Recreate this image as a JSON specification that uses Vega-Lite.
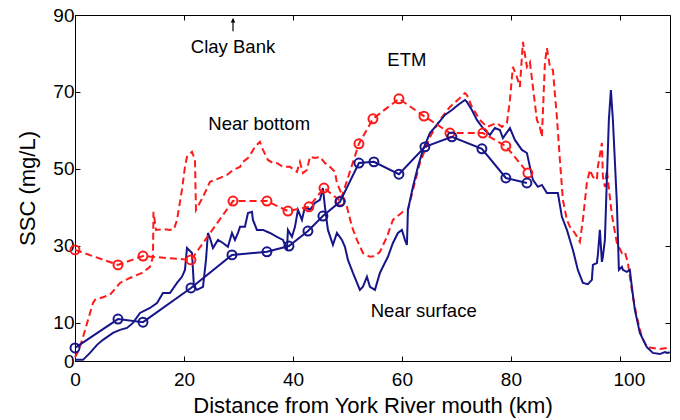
{
  "$schema": "https://vega.github.io/schema/vega-lite/v6.json",
  "width": 595,
  "height": 346,
  "autosize": "none",
  "padding": {"left": 75, "top": 15, "right": 10, "bottom": 59},
  "background": "white",
  "config": {
    "view": {"stroke": "black", "strokeWidth": 1},
    "font": "Liberation Sans",
    "axis": {"grid": false, "domainColor": "black", "tickColor": "black", "labelColor": "black", "titleColor": "black", "labelFont": "Liberation Sans", "titleFont": "Liberation Sans", "labelFontSize": 19, "titleFontSize": 22, "titleFontWeight": "normal", "tickSize": -5, "domain": true}
  },
  "datasets": {
    "bottom": [
      {"km":0,"ssc":1.0},{"km":0.73,"ssc":2.9},{"km":1.47,"ssc":6.2},{"km":2.39,"ssc":10.7},{"km":3.3,"ssc":15.1},{"km":3.67,"ssc":15.9},{"km":5.14,"ssc":16.6},{"km":6.42,"ssc":17.2},{"km":8.26,"ssc":20.3},{"km":10.09,"ssc":21.6},{"km":12.29,"ssc":22.9},{"km":13.76,"ssc":24.5},{"km":14.31,"ssc":27.1},{"km":14.4,"ssc":38.8},{"km":14.86,"ssc":34.1},{"km":16.15,"ssc":34.3},{"km":17.43,"ssc":34.1},{"km":18.17,"ssc":34.3},{"km":18.72,"ssc":36.7},{"km":19.63,"ssc":44.5},{"km":20.18,"ssc":50.5},{"km":20.55,"ssc":53.1},{"km":21.47,"ssc":54.4},{"km":22.02,"ssc":52.3},{"km":22.2,"ssc":39.3},{"km":23.49,"ssc":42.7},{"km":24.77,"ssc":46.6},{"km":25.69,"ssc":47.1},{"km":27.89,"ssc":48.4},{"km":28.99,"ssc":49.7},{"km":30.28,"ssc":50.5},{"km":30.83,"ssc":51.8},{"km":31.74,"ssc":52.8},{"km":32.48,"ssc":54.4},{"km":33.03,"ssc":55.7},{"km":33.94,"ssc":57.0},{"km":34.5,"ssc":54.9},{"km":35.41,"ssc":52.3},{"km":36.33,"ssc":51.5},{"km":37.06,"ssc":51.5},{"km":38.17,"ssc":50.5},{"km":39.45,"ssc":50.5},{"km":40.73,"ssc":49.2},{"km":41.28,"ssc":51.8},{"km":41.83,"ssc":48.9},{"km":42.57,"ssc":49.7},{"km":43.12,"ssc":53.1},{"km":44.04,"ssc":52.8},{"km":44.95,"ssc":53.1},{"km":45.87,"ssc":51.5},{"km":46.79,"ssc":50.5},{"km":47.71,"ssc":49.2},{"km":48.07,"ssc":46.3},{"km":49.17,"ssc":42.7},{"km":49.91,"ssc":40.1},{"km":50.83,"ssc":34.9},{"km":51.74,"ssc":31.5},{"km":52.84,"ssc":28.1},{"km":54.13,"ssc":27.1},{"km":55.05,"ssc":27.3},{"km":55.96,"ssc":28.4},{"km":57.25,"ssc":32.3},{"km":58.35,"ssc":36.7},{"km":60.18,"ssc":38.8},{"km":61.1,"ssc":39.3},{"km":62.02,"ssc":44.5},{"km":63.3,"ssc":51.5},{"km":65.14,"ssc":58.3},{"km":66.97,"ssc":62.7},{"km":68.81,"ssc":66.1},{"km":70.64,"ssc":68.4},{"km":71.56,"ssc":69.7},{"km":71.93,"ssc":69.2},{"km":72.84,"ssc":66.1},{"km":74.31,"ssc":62.7},{"km":75.6,"ssc":60.9},{"km":77.43,"ssc":61.9},{"km":78.35,"ssc":60.9},{"km":79.27,"ssc":61.9},{"km":79.82,"ssc":67.9},{"km":80.37,"ssc":76.5},{"km":81.1,"ssc":73.9},{"km":81.65,"ssc":71.3},{"km":82.2,"ssc":83.0},{"km":82.94,"ssc":76.5},{"km":83.49,"ssc":77.8},{"km":84.04,"ssc":71.3},{"km":84.77,"ssc":62.7},{"km":85.32,"ssc":60.9},{"km":85.69,"ssc":58.3},{"km":86.24,"ssc":77.5},{"km":86.61,"ssc":81.4},{"km":87.16,"ssc":76.5},{"km":87.71,"ssc":75.7},{"km":88.44,"ssc":63.5},{"km":88.99,"ssc":52.3},{"km":89.54,"ssc":41.9},{"km":90.28,"ssc":36.7},{"km":90.83,"ssc":34.9},{"km":91.74,"ssc":33.3},{"km":92.66,"ssc":31.0},{"km":93.21,"ssc":36.7},{"km":93.94,"ssc":46.3},{"km":94.5,"ssc":49.7},{"km":95.05,"ssc":47.9},{"km":95.78,"ssc":47.1},{"km":95.96,"ssc":50.5},{"km":96.7,"ssc":56.7},{"km":96.88,"ssc":47.9},{"km":97.25,"ssc":45.3},{"km":97.61,"ssc":49.7},{"km":98.53,"ssc":38.0},{"km":99.45,"ssc":30.7},{"km":100.37,"ssc":28.1},{"km":100.92,"ssc":28.4},{"km":101.47,"ssc":25.5},{"km":102.39,"ssc":16.6},{"km":103.12,"ssc":11.4},{"km":104.04,"ssc":6.2},{"km":104.95,"ssc":3.6},{"km":106.06,"ssc":3.4},{"km":107.34,"ssc":3.1},{"km":108.62,"ssc":3.4},{"km":109.17,"ssc":3.6}
    ],
    "surface": [
      {"km":0,"ssc":0.3},{"km":1.47,"ssc":0.3},{"km":2.75,"ssc":2.1},{"km":4.04,"ssc":4.2},{"km":5.14,"ssc":5.5},{"km":6.97,"ssc":7.3},{"km":8.26,"ssc":8.1},{"km":9.54,"ssc":8.6},{"km":10.64,"ssc":9.9},{"km":11.93,"ssc":12.5},{"km":13.76,"ssc":13.8},{"km":15.05,"ssc":15.1},{"km":16.15,"ssc":17.7},{"km":17.43,"ssc":17.7},{"km":18.72,"ssc":20.3},{"km":19.63,"ssc":21.9},{"km":20.18,"ssc":23.7},{"km":20.55,"ssc":29.4},{"km":21.47,"ssc":28.1},{"km":21.83,"ssc":19.3},{"km":22.39,"ssc":18.5},{"km":23.49,"ssc":19.3},{"km":24.04,"ssc":26.3},{"km":24.4,"ssc":33.3},{"km":24.77,"ssc":32.0},{"km":25.32,"ssc":29.4},{"km":26.24,"ssc":31.5},{"km":27.16,"ssc":30.7},{"km":28.07,"ssc":29.7},{"km":28.81,"ssc":33.3},{"km":29.36,"ssc":31.5},{"km":29.91,"ssc":33.3},{"km":30.28,"ssc":34.9},{"km":31.19,"ssc":34.9},{"km":31.74,"ssc":38.5},{"km":32.48,"ssc":38.8},{"km":32.66,"ssc":36.7},{"km":33.39,"ssc":34.1},{"km":34.5,"ssc":34.1},{"km":35.78,"ssc":33.3},{"km":37.06,"ssc":32.3},{"km":38.17,"ssc":31.5},{"km":38.9,"ssc":28.9},{"km":39.08,"ssc":34.1},{"km":39.82,"ssc":32.3},{"km":40.37,"ssc":34.9},{"km":40.92,"ssc":39.3},{"km":41.65,"ssc":36.7},{"km":42.2,"ssc":40.1},{"km":43.12,"ssc":39.3},{"km":44.04,"ssc":41.1},{"km":44.95,"ssc":41.9},{"km":45.5,"ssc":45.0},{"km":45.87,"ssc":40.1},{"km":46.42,"ssc":34.1},{"km":47.34,"ssc":30.2},{"km":48.07,"ssc":33.3},{"km":48.99,"ssc":31.5},{"km":49.54,"ssc":29.7},{"km":50.09,"ssc":26.3},{"km":51.01,"ssc":22.9},{"km":52.29,"ssc":18.5},{"km":52.84,"ssc":19.3},{"km":53.58,"ssc":21.9},{"km":54.13,"ssc":19.3},{"km":55.05,"ssc":18.5},{"km":55.96,"ssc":22.9},{"km":56.51,"ssc":24.5},{"km":57.43,"ssc":27.1},{"km":58.35,"ssc":30.7},{"km":59.27,"ssc":33.3},{"km":60.0,"ssc":34.1},{"km":60.55,"ssc":31.5},{"km":60.92,"ssc":30.2},{"km":61.1,"ssc":39.3},{"km":62.02,"ssc":45.3},{"km":62.94,"ssc":50.5},{"km":63.85,"ssc":54.9},{"km":65.14,"ssc":59.3},{"km":66.42,"ssc":61.4},{"km":67.89,"ssc":64.0},{"km":69.17,"ssc":65.3},{"km":70.28,"ssc":66.6},{"km":71.56,"ssc":67.9},{"km":71.93,"ssc":67.4},{"km":72.84,"ssc":65.3},{"km":73.76,"ssc":62.7},{"km":74.86,"ssc":60.6},{"km":76.15,"ssc":58.8},{"km":77.06,"ssc":60.6},{"km":77.98,"ssc":60.1},{"km":78.53,"ssc":58.0},{"km":79.82,"ssc":60.6},{"km":80.73,"ssc":57.5},{"km":82.02,"ssc":54.9},{"km":82.94,"ssc":54.1},{"km":83.49,"ssc":50.5},{"km":84.04,"ssc":47.1},{"km":84.95,"ssc":45.3},{"km":85.69,"ssc":45.8},{"km":86.61,"ssc":43.7},{"km":87.71,"ssc":43.7},{"km":88.62,"ssc":43.7},{"km":89.36,"ssc":37.5},{"km":90.28,"ssc":34.1},{"km":91.38,"ssc":28.9},{"km":92.29,"ssc":23.7},{"km":93.21,"ssc":20.3},{"km":94.13,"ssc":20.0},{"km":94.86,"ssc":21.1},{"km":95.05,"ssc":25.0},{"km":95.78,"ssc":25.5},{"km":95.96,"ssc":27.6},{"km":96.33,"ssc":34.1},{"km":96.7,"ssc":25.8},{"km":96.88,"ssc":27.1},{"km":97.25,"ssc":31.5},{"km":97.61,"ssc":47.1},{"km":97.98,"ssc":62.7},{"km":98.35,"ssc":70.5},{"km":98.72,"ssc":62.7},{"km":99.45,"ssc":41.1},{"km":99.82,"ssc":23.7},{"km":100.37,"ssc":24.5},{"km":100.55,"ssc":23.7},{"km":101.28,"ssc":23.2},{"km":101.83,"ssc":23.7},{"km":102.2,"ssc":19.3},{"km":102.75,"ssc":13.3},{"km":103.67,"ssc":7.3},{"km":104.95,"ssc":3.6},{"km":106.06,"ssc":2.1},{"km":107.34,"ssc":1.8},{"km":108.26,"ssc":2.3},{"km":108.81,"ssc":2.1},{"km":109.17,"ssc":2.3}
    ],
    "bottomSt": [
      {"km":0,"ssc":28.9},{"km":7.89,"ssc":25.0},{"km":12.48,"ssc":27.3},{"km":21.28,"ssc":26.3},{"km":28.99,"ssc":41.6},{"km":35.23,"ssc":41.6},{"km":39.08,"ssc":39.0},{"km":42.94,"ssc":40.1},{"km":45.69,"ssc":45.0},{"km":48.7,"ssc":41.6},{"km":52.11,"ssc":56.5},{"km":54.68,"ssc":63.0},{"km":59.45,"ssc":68.2},{"km":64.04,"ssc":63.7},{"km":68.81,"ssc":59.3},{"km":74.86,"ssc":59.3},{"km":79.08,"ssc":55.9},{"km":83.12,"ssc":48.9}
    ],
    "surfaceSt": [
      {"km":0,"ssc":3.4},{"km":7.89,"ssc":10.9},{"km":12.48,"ssc":10.1},{"km":21.28,"ssc":19.0},{"km":28.81,"ssc":27.6},{"km":35.23,"ssc":28.4},{"km":39.27,"ssc":29.9},{"km":42.75,"ssc":33.8},{"km":45.5,"ssc":37.7},{"km":48.62,"ssc":41.4},{"km":52.11,"ssc":51.5},{"km":54.86,"ssc":51.8},{"km":59.45,"ssc":48.6},{"km":64.22,"ssc":55.7},{"km":69.17,"ssc":58.3},{"km":74.68,"ssc":55.2},{"km":79.08,"ssc":47.6},{"km":82.94,"ssc":46.3}
    ],
    "labels": [
      {"km":29.0,"ssc":81.6,"t":"Clay Bank"},
      {"km":60.9,"ssc":78.3,"t":"ETM"},
      {"km":33.8,"ssc":61.7,"t":"Near bottom"},
      {"km":64.0,"ssc":13.0,"t":"Near surface"}
    ],
    "arrow": [{"km":29.0,"y1":85.8,"y2":89.0,"tip":88.6}]
  },
  "layer": [
    {
      "data": {"name": "bottom"},
      "mark": {"type": "line", "color": "#ff1a1a", "strokeWidth": 2, "strokeDash": [7, 4]},
      "encoding": {
        "x": {"field": "km", "type": "quantitative", "scale": {"domain": [0, 109.2], "nice": false, "zero": false}, "axis": {"orient": "bottom", "values": [0, 20, 40, 60, 80, 100], "title": "Distance from York River mouth (km)", "labelPadding": 14, "titlePadding": 6, "labelFlush": false, "labelOffset": {"condition": {"test": "datum.value == 100", "value": 9}, "value": 0}}},
        "y": {"field": "ssc", "type": "quantitative", "scale": {"domain": [0, 90], "nice": false}, "axis": {"orient": "left", "values": [0, 10, 30, 50, 70, 90], "title": "SSC (mg/L)", "labelPadding": 6, "titlePadding": 13, "labelFlush": false}}
      }
    },
    {
      "data": {"name": "surface"},
      "mark": {"type": "line", "color": "#16168a", "strokeWidth": 2},
      "encoding": {
        "x": {"field": "km", "type": "quantitative", "axis": null},
        "y": {"field": "ssc", "type": "quantitative", "axis": null}
      }
    },
    {
      "data": {"name": "bottomSt"},
      "mark": {"type": "line", "color": "#ff1a1a", "strokeWidth": 2, "strokeDash": [7, 4]},
      "encoding": {
        "x": {"field": "km", "type": "quantitative", "axis": null},
        "y": {"field": "ssc", "type": "quantitative", "axis": null}
      }
    },
    {
      "data": {"name": "bottomSt"},
      "mark": {"type": "point", "filled": false, "color": "#ff1a1a", "size": 80, "strokeWidth": 2, "opacity": 1},
      "encoding": {
        "x": {"field": "km", "type": "quantitative", "axis": null},
        "y": {"field": "ssc", "type": "quantitative", "axis": null}
      }
    },
    {
      "data": {"name": "surfaceSt"},
      "mark": {"type": "line", "color": "#16168a", "strokeWidth": 2},
      "encoding": {
        "x": {"field": "km", "type": "quantitative", "axis": null},
        "y": {"field": "ssc", "type": "quantitative", "axis": null}
      }
    },
    {
      "data": {"name": "surfaceSt"},
      "mark": {"type": "point", "filled": false, "color": "#16168a", "size": 80, "strokeWidth": 2, "opacity": 1},
      "encoding": {
        "x": {"field": "km", "type": "quantitative", "axis": null},
        "y": {"field": "ssc", "type": "quantitative", "axis": null}
      }
    },
    {
      "data": {"name": "arrow"},
      "mark": {"type": "rule", "color": "black", "strokeWidth": 1.2},
      "encoding": {
        "x": {"field": "km", "type": "quantitative", "axis": null},
        "y": {"field": "y1", "type": "quantitative", "axis": null},
        "y2": {"field": "y2"}
      }
    },
    {
      "data": {"name": "arrow"},
      "mark": {"type": "point", "shape": "triangle-up", "filled": true, "color": "black", "size": 22, "opacity": 1},
      "encoding": {
        "x": {"field": "km", "type": "quantitative", "axis": null},
        "y": {"field": "tip", "type": "quantitative", "axis": null}
      }
    },
    {
      "data": {"name": "labels"},
      "mark": {"type": "text", "font": "Liberation Sans", "fontSize": 18.5, "color": "black", "baseline": "middle", "align": "center"},
      "encoding": {
        "x": {"field": "km", "type": "quantitative", "axis": {"orient": "top", "values": [0, 20, 40, 60, 80, 100], "labels": false, "title": null, "domain": false}},
        "y": {"field": "ssc", "type": "quantitative", "axis": {"orient": "right", "values": [0, 10, 30, 50, 70, 90], "labels": false, "title": null, "domain": false}},
        "text": {"field": "t"}
      }
    }
  ],
  "resolve": {"axis": {"x": "independent", "y": "independent"}}
}
